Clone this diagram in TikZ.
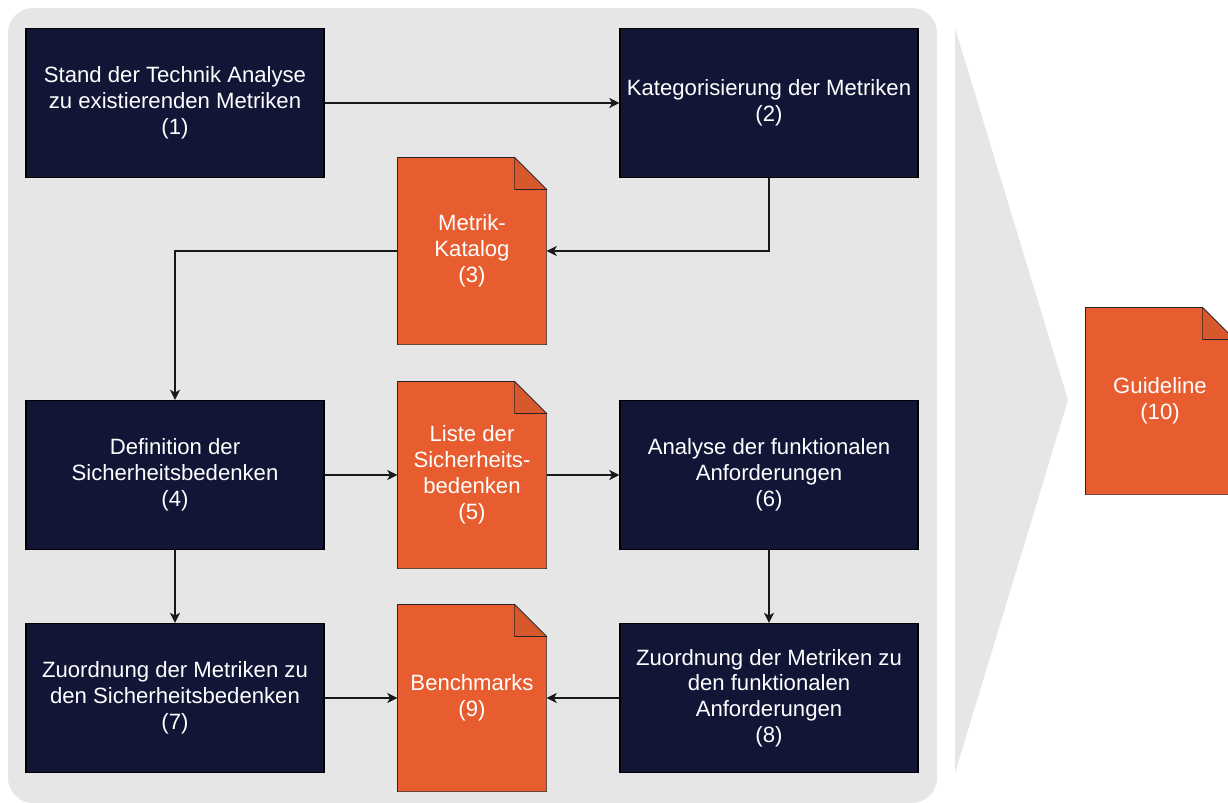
\documentclass[tikz,border=0pt]{standalone}
\usepackage{fontspec}
\setmainfont{Liberation Sans}
\usetikzlibrary{arrows.meta, backgrounds}

\definecolor{navy}{HTML}{121636}
\definecolor{rust}{HTML}{E85D2F}
\definecolor{rustdark}{HTML}{D8582D}
\definecolor{panel}{HTML}{E6E6E6}

\begin{document}
\begin{tikzpicture}[x=0.02cm,y=-0.02cm,line width=0.7pt,
  >={Stealth[length=5.8pt,width=5.8pt,inset=1.6pt]},
  task/.style={rectangle,draw=black,fill=navy,text=white,inner sep=0pt,
    minimum width=5.96cm,minimum height=2.98cm,align=center,
    font=\fontsize{12.6}{14.7}\selectfont},
  doc/.style={rectangle,inner sep=0pt,text=white,
    minimum width=2.96cm,minimum height=3.72cm,align=center,
    font=\fontsize{12.6}{14.7}\selectfont},
  link/.style={->,draw=black!90}]

    \useasboundingbox (0,0) rectangle (1228,802);

    % process steps
    \node[task] (analyse) at (175,103) {Stand der Technik Analyse\\zu existierenden Metriken\\(1)};
    \node[task] (kategorien) at (769,103) {Kategorisierung der Metriken\\(2)};
    \node[task] (bedenken) at (175,475) {Definition der\\Sicherheitsbedenken\\(4)};
    \node[task] (anforderungen) at (769,475) {Analyse der funktionalen\\Anforderungen\\(6)};
    \node[task] (zuordnungSB) at (175,698) {Zuordnung der Metriken zu\\den Sicherheitsbedenken\\(7)};
    \node[task] (zuordnungFA) at (769,698) {Zuordnung der Metriken zu\\den funktionalen\\Anforderungen\\(8)};

    % documents
    \node[doc] (katalog) at (472,251) {Metrik-\\Katalog\\(3)};
    \node[doc] (liste) at (472,475) {Liste der\\Sicherheits-\\bedenken\\(5)};
    \node[doc] (benchmarks) at (472,698) {Benchmarks\\(9)};
    \node[doc] (guideline) at (1160,401) {Guideline\\(10)};

    \begin{scope}[on background layer]
        \fill[panel, rounded corners=0.5cm] (8,8) rectangle (937,803);
        \fill[panel] (955,28) -- (1068,400) -- (955,773) -- cycle;
        \foreach \d in {katalog,liste,benchmarks,guideline} {
            \draw[draw=black!85, fill=rust] (\d.south west) -- (\d.north west)
                -- ([xshift=-0.64cm]\d.north east) -- ([yshift=-0.64cm]\d.north east)
                -- (\d.south east) -- cycle;
            \draw[draw=black!85, fill=rustdark] ([xshift=-0.64cm]\d.north east)
                -- ([xshift=-0.64cm,yshift=-0.64cm]\d.north east)
                -- ([yshift=-0.64cm]\d.north east) -- cycle;
        }
    \end{scope}

    % flow
    \draw[link] (analyse) -- (kategorien);
    \draw[link] (kategorien.south) |- (katalog.east);
    \draw[link] (katalog.west) -| (bedenken.north);
    \draw[link] (bedenken) -- (liste);
    \draw[link] (liste) -- (anforderungen);
    \draw[link] (bedenken) -- (zuordnungSB);
    \draw[link] (anforderungen) -- (zuordnungFA);
    \draw[link] (zuordnungSB) -- (benchmarks);
    \draw[link] (zuordnungFA) -- (benchmarks);
\end{tikzpicture}
\end{document}
